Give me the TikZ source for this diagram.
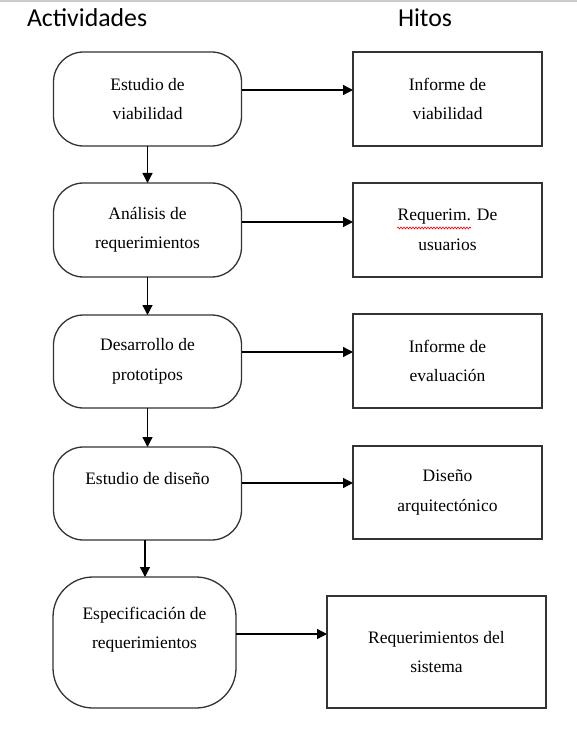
\documentclass[tikz,border=0pt]{standalone}
\usepackage{fontspec}
\setmainfont{Liberation Serif}
\newfontfamily\headfont{Carlito}
\usetikzlibrary{arrows.meta,decorations.pathmorphing}
\begin{document}
\begin{tikzpicture}[x=1pt,y=-1pt,
  every node/.style={inner sep=0pt, outer sep=0pt},
  act/.style={draw=black!80, line width=1.3pt, rounded corners=30pt, minimum width=188pt, minimum height=94pt,
     align=center, font=\fontsize{17.5}{29.5}\selectfont},
  hito/.style={draw=black!80, line width=1.3pt, minimum width=189pt, minimum height=94pt,
     align=center, font=\fontsize{17.5}{29.5}\selectfont},
  arr/.style={line width=1.3pt, -{Triangle[length=10pt,width=10pt]}},
  head/.style={font=\headfont\fontsize{25.8}{28}\selectfont, anchor=west}]
\useasboundingbox (0,0) rectangle (577,743);
\fill[black!20] (0,0) rectangle (577,2.5);
\node[head] (ha) at (27,18) {Actividades};
\node[head] (hh) at (398,18) {Hitos};
% activities
\node[act] (b1) at (147.5,99) {Estudio de\\viabilidad};
\node[act] (b2) at (147.5,230) {Análisis de\\requerimientos};
\node[act, minimum height=93pt] (b3) at (147.5,361.5) {Desarrollo de\\prototipos};
\node[act, minimum height=93pt] (b4) at (147.5,493.5) {Estudio de diseño\\\mbox{}};
\node[act, minimum width=183pt, minimum height=131pt, rounded corners=40pt] (b5) at (144.5,642.5) {Especificación de\\requerimientos\\\mbox{}};
% milestones
\node[hito] (r1) at (447.5,99) {Informe de\\viabilidad};
\node[hito] (r2) at (447.5,230) {Requerim. De\\usuarios};
\node[hito] (r3) at (447.5,361) {Informe de\\evaluación};
\node[hito, minimum height=93pt] (r4) at (447.5,492.5) {Diseño\\arquitectónico};
\node[hito, minimum width=219pt, minimum height=112pt] (r5) at (436.5,652) {Requerimientos del\\sistema};
% vertical arrows
\draw[arr] (b1.south) -- (b2.north);
\draw[arr] (b2.south) -- (b3.north);
\draw[arr] (b3.south) -- (b4.north);
\coordinate (v5) at (145,0);
\draw[arr] (b4.south -| v5) -- (b5.north -| v5);
% horizontal arrows
\coordinate (h1) at (0,90);
\coordinate (h2) at (0,222);
\coordinate (h3) at (0,352);
\coordinate (h4) at (0,483);
\coordinate (h5) at (0,634);
\draw[arr] (b1.east |- h1) -- (r1.west |- h1);
\draw[arr] (b2.east |- h2) -- (r2.west |- h2);
\draw[arr] (b3.east |- h3) -- (r3.west |- h3);
\draw[arr] (b4.east |- h4) -- (r4.west |- h4);
\draw[arr] (b5.east |- h5) -- (r5.west |- h5);
% spell-check underline
\draw[red, line width=0.6pt, decorate, decoration={snake, amplitude=1pt, segment length=3pt}] (397,228) -- (471,228);
\end{tikzpicture}
\end{document}
